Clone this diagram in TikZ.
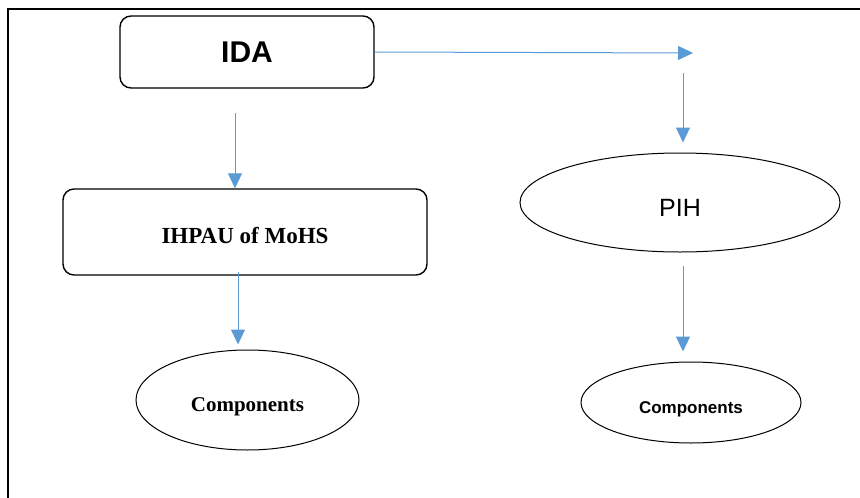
\documentclass[tikz,border=0pt]{standalone}
\usepackage{fontspec}
\setmainfont{Liberation Serif}
\setsansfont{Liberation Sans}
\usepackage{tikz}
\usetikzlibrary{arrows.meta,shapes.geometric}

\definecolor{flowblue}{HTML}{5B9BD5}

\tikzset{
    unitbox/.style={draw=black, line width=1.4pt, rounded corners=11pt, inner sep=0pt},
    oval/.style={draw=black, line width=1pt, ellipse, inner sep=0pt},
    flow/.style={draw=flowblue, line width=1pt, -{Triangle[length=15pt,width=14pt]}}
}

\begin{document}
\begin{tikzpicture}[x=1pt, y=-1pt]
        \useasboundingbox (0,0) rectangle (860,498);

        % Marco
        \draw[line width=2pt] (8,498) -- (8,9) -- (860,9);

        % Cajas
        \node[unitbox, minimum width=254pt, minimum height=72pt,
              font=\sffamily\bfseries\fontsize{30}{34}\selectfont] (ida) at (247,52) {IDA};
        \node[unitbox, minimum width=364pt, minimum height=86pt, text height=23pt, text depth=0pt,
              font=\bfseries\fontsize{23}{27}\selectfont] (ihpau) at (245,232) {IHPAU of MoHS};

        % Elipses
        \node[oval, minimum width=320pt, minimum height=99pt, text height=28pt, text depth=0pt,
              font=\sffamily\fontsize{25}{29}\selectfont] (pih) at (680,202.5) {PIH};
        \node[oval, minimum width=223pt, minimum height=100pt, text height=23pt, text depth=0pt,
              font=\bfseries\fontsize{21}{25}\selectfont] (compa) at (247.5,400) {Components};
        \node[oval, minimum width=220pt, minimum height=81pt, text height=22pt, text depth=0pt,
              font=\sffamily\bfseries\fontsize{17}{20}\selectfont] (compb) at (691,402.5) {Components};

        % Puntos libres
        \coordinate (tipr) at (693,53);
        \coordinate (srca) at (235,113);
        \coordinate (srcb) at (238,272);
        \coordinate (srcc) at (683,73);
        \coordinate (srcd) at (683,266);

        % Flechas
        \draw[flow] (ida.east) -- (tipr);
        \draw[flow] (srca) -- (ihpau.north -| srca);
        \draw[flow, shorten >=5pt] (srcb) -- (compa.north -| srcb);
        \draw[flow, shorten >=10pt] (srcc) -- (pih.north -| srcc);
        \draw[flow, shorten >=10pt] (srcd) -- (compb.north -| srcd);
    \end{tikzpicture}
\end{document}
